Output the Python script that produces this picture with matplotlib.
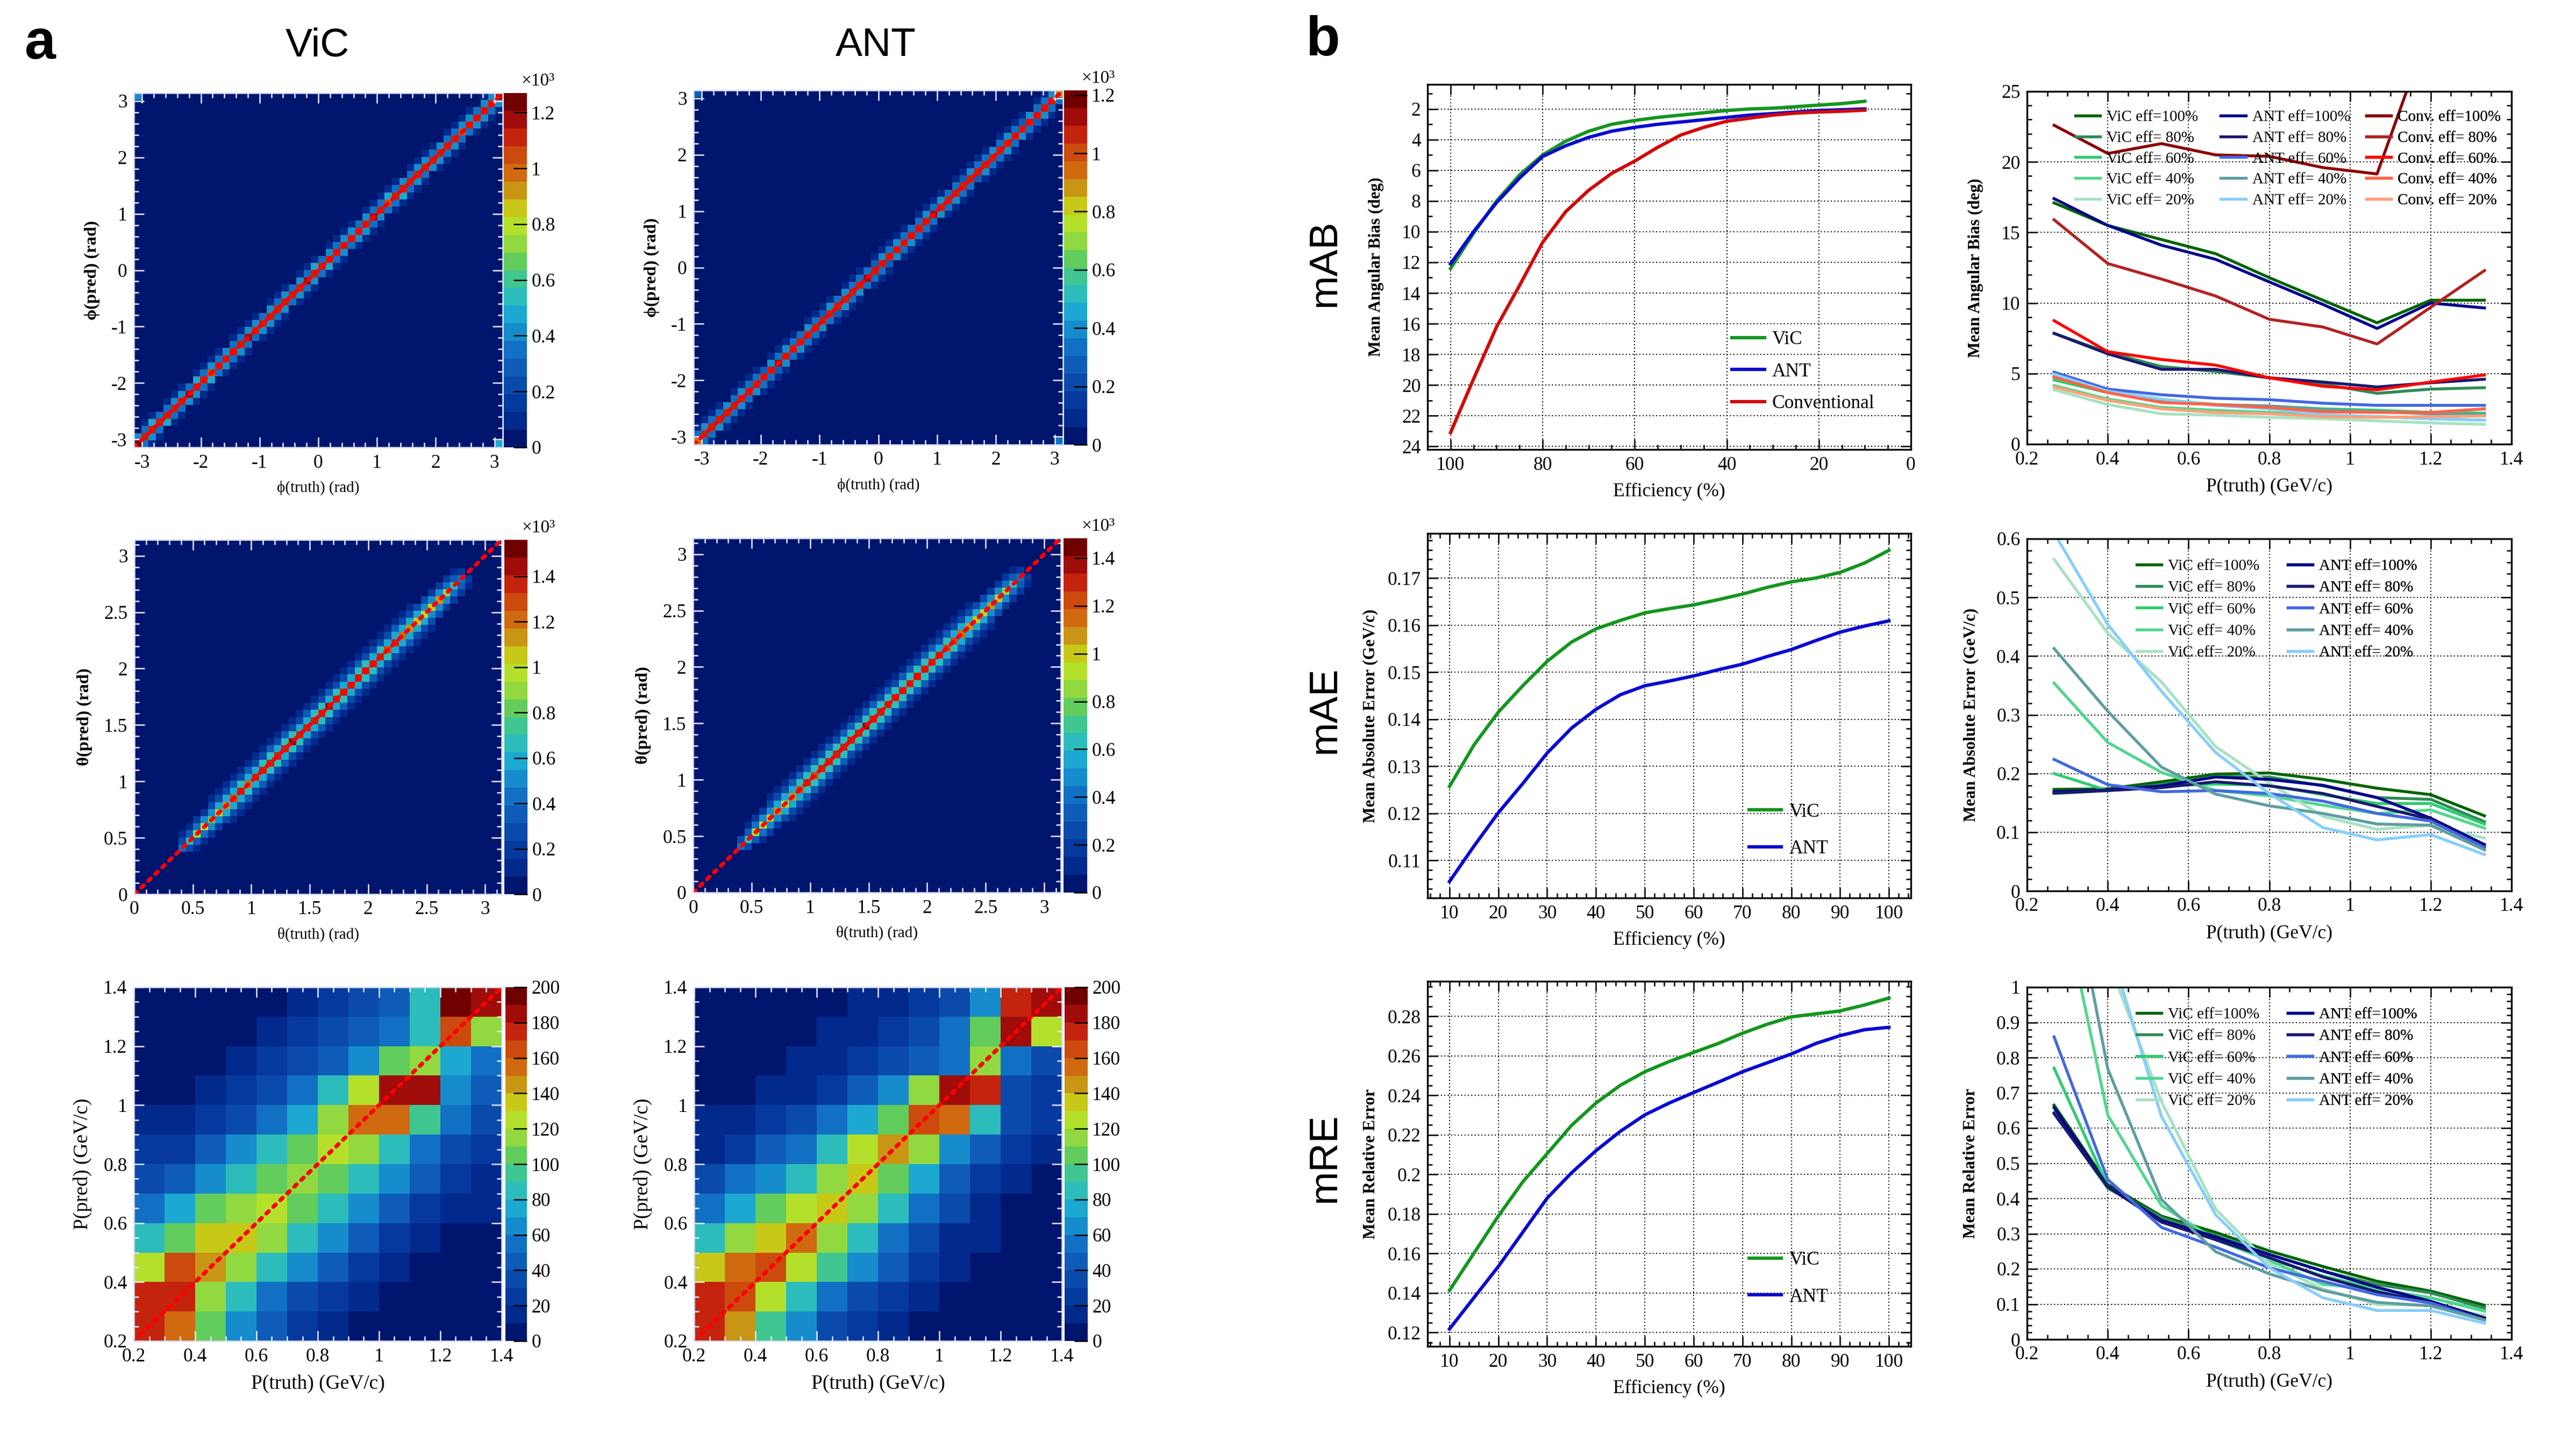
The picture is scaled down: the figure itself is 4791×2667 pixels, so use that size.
import numpy as np
import matplotlib.pyplot as plt
from matplotlib.colors import ListedColormap, BoundaryNorm
from matplotlib.ticker import MultipleLocator, FuncFormatter

plt.rcParams['font.family'] = ['Liberation Serif', 'DejaVu Serif']
plt.rcParams['axes.unicode_minus'] = False

# ---------------- panel a: 2D histograms ----------------
# phi(pred) vs phi(truth), 50 bins over [-pi, pi]
phi_vic_diag = [1230, 1110, 1090, 1130, 1100, 1080, 1120, 1150, 1090, 1110,
                1070, 1130, 1100, 1120, 1090, 1160, 1110, 1080, 1120, 1100,
                1130, 1090, 1110, 1170, 1100, 1120, 1090, 1140, 1100, 1080,
                1120, 1110, 1150, 1090, 1050, 1110, 1130, 1100, 1080, 1120,
                1100, 1140, 1090, 1110, 1060, 1120, 1100, 1130, 1090, 1200]
phi_vic_side1 = [370, 400, 340, 450, 380, 350, 420, 390, 340, 460,
                 370, 400, 350, 430, 380, 340, 410, 390, 360, 440,
                 370, 400, 350, 420, 380, 490, 360, 400, 340, 430,
                 390, 350, 420, 380, 340, 450, 370, 400, 350, 410,
                 390, 340, 430, 380, 360, 420, 390, 350, 440, 400]
phi_vic_side2 = [70, 90, 60, 110, 80, 60, 100, 70, 90, 60,
                 120, 80, 70, 100, 60, 90, 80, 110, 70, 60,
                 100, 80, 90, 60, 70, 110, 80, 60, 90, 100,
                 70, 80, 60, 110, 90, 70, 80, 100, 60, 90,
                 70, 80, 110, 60, 90, 70, 100, 80, 60, 90]
phi_vic_wrap = [420, 480]

phi_ant_diag = [940, 1060, 1080, 1050, 1070, 1040, 1090, 1060, 1050, 1080,
                1060, 1110, 1050, 1070, 1040, 1080, 1060, 1050, 1090, 1070,
                1040, 1060, 1080, 1130, 1050, 1070, 1060, 1040, 1090, 1060,
                1080, 1050, 1100, 1070, 1040, 1060, 1080, 1050, 1070, 1060,
                1090, 1040, 1070, 1060, 1080, 1050, 1070, 1060, 1040, 880]
phi_ant_side1 = [360, 320, 400, 340, 310, 390, 350, 420, 330, 360,
                 300, 380, 340, 410, 320, 360, 390, 330, 300, 370,
                 350, 410, 320, 360, 340, 300, 390, 350, 420, 330,
                 360, 310, 380, 340, 400, 320, 360, 300, 390, 350,
                 330, 410, 320, 370, 340, 300, 380, 350, 330, 370]
phi_ant_side2 = [80, 60, 100, 70, 90, 110, 60, 80, 100, 70,
                 90, 60, 110, 80, 70, 100, 60, 90, 80, 110,
                 70, 60, 100, 90, 80, 60, 110, 70, 90, 80,
                 100, 60, 70, 110, 80, 90, 60, 100, 70, 80,
                 110, 90, 60, 80, 100, 70, 90, 60, 80, 100]
phi_ant_wrap = [300, 350]

# theta(pred) vs theta(truth), 50 bins over [0, pi]; band occupies bins 6..44
theta_first_bin = 6
theta_vic_diag = [450, 650, 900, 1000, 850, 1050, 1100, 1250, 1350, 1200,
                  1360, 1370, 1380, 1340, 1360, 1450, 1370, 1340, 1380, 1360,
                  1440, 1370, 1350, 1340, 1380, 1330, 1360, 1340, 1250, 1340,
                  1200, 1150, 1050, 980, 1080, 1150, 900, 650, 420]
theta_vic_side1 = [250, 350, 450, 500, 520, 560, 580, 600, 640, 620,
                   600, 650, 630, 610, 660, 640, 600, 620, 650, 630,
                   610, 640, 600, 620, 650, 630, 600, 640, 610, 590,
                   620, 580, 560, 540, 520, 500, 420, 330, 220]
theta_vic_side2 = [80, 120, 180, 220, 250, 280, 300, 320, 300, 340,
                   310, 290, 330, 300, 320, 280, 310, 330, 300, 290,
                   320, 300, 310, 290, 330, 300, 280, 310, 300, 320,
                   290, 280, 260, 240, 230, 200, 160, 110, 70]
theta_vic_side3 = [40, 50, 60, 70, 80, 90, 80, 100, 90, 80,
                   100, 90, 80, 100, 90, 80, 90, 100, 80, 90,
                   100, 80, 90, 80, 100, 90, 80, 90, 100, 80,
                   90, 80, 70, 70, 60, 60, 50, 40, 30]

theta_ant_diag = [420, 600, 850, 950, 1000, 1050, 900, 1100, 1200, 1280,
                  1250, 1300, 1290, 1270, 1310, 1300, 1280, 1350, 1300, 1290,
                  1310, 1280, 1300, 1290, 1270, 1310, 1300, 1280, 1250, 1200,
                  1150, 1100, 1000, 950, 1050, 1000, 850, 650, 400]
theta_ant_side1 = [230, 330, 430, 480, 510, 540, 560, 590, 610, 600,
                   620, 640, 600, 630, 610, 650, 620, 600, 640, 610,
                   630, 600, 640, 620, 600, 630, 610, 590, 600, 570,
                   560, 540, 520, 500, 490, 460, 400, 310, 200]
theta_ant_side2 = [70, 110, 170, 210, 240, 270, 290, 310, 300, 320,
                   300, 280, 320, 290, 310, 300, 280, 320, 300, 290,
                   310, 290, 300, 320, 280, 300, 310, 290, 300, 280,
                   270, 260, 250, 230, 220, 190, 150, 100, 60]
theta_ant_side3 = [40, 50, 60, 70, 80, 90, 80, 90, 100, 80,
                   90, 100, 80, 90, 100, 80, 90, 80, 100, 90,
                   80, 100, 90, 80, 90, 100, 80, 90, 80, 100,
                   90, 80, 70, 60, 60, 50, 50, 40, 30]

# P(pred) vs P(truth), read in 0.1 GeV/c blocks; rows from P(pred)=0.2 upward
p_bin_edges = [0.2, 0.3, 0.4, 0.5, 0.6, 0.7, 0.8, 0.9, 1.0, 1.1, 1.2, 1.3, 1.4]
p_vic_counts = [
    [175, 150, 100, 65, 40, 20, 12, 8, 5, 5, 5, 5],
    [175, 170, 110, 80, 55, 35, 20, 12, 8, 6, 5, 5],
    [125, 165, 145, 115, 85, 60, 40, 25, 15, 8, 6, 5],
    [80, 105, 130, 130, 110, 85, 65, 40, 25, 15, 8, 6],
    [55, 70, 100, 115, 120, 105, 85, 60, 40, 25, 15, 10],
    [35, 45, 60, 80, 105, 115, 105, 80, 60, 40, 25, 12],
    [25, 25, 40, 60, 80, 105, 120, 110, 80, 55, 30, 20],
    [10, 15, 25, 35, 50, 75, 115, 150, 150, 90, 50, 35],
    [6, 8, 12, 20, 35, 50, 85, 120, 185, 180, 65, 40],
    [5, 6, 8, 12, 20, 30, 40, 60, 100, 110, 70, 50],
    [5, 5, 6, 8, 12, 20, 30, 40, 50, 85, 160, 110],
    [4, 4, 5, 6, 8, 12, 20, 30, 45, 80, 190, 185],
]
p_ant_counts = [
    [175, 140, 95, 60, 38, 22, 12, 6, 6, 5, 5, 5],
    [175, 165, 120, 80, 55, 35, 20, 12, 8, 6, 5, 5],
    [135, 155, 165, 125, 90, 60, 40, 25, 12, 8, 5, 5],
    [80, 110, 135, 150, 115, 80, 50, 30, 18, 10, 6, 5],
    [55, 75, 100, 125, 130, 110, 80, 50, 30, 18, 8, 6],
    [35, 50, 65, 85, 110, 130, 105, 75, 45, 25, 12, 8],
    [15, 25, 40, 55, 80, 120, 145, 110, 65, 40, 20, 12],
    [10, 12, 20, 35, 50, 75, 100, 165, 150, 80, 30, 20],
    [5, 8, 10, 15, 25, 40, 65, 110, 185, 175, 35, 25],
    [4, 5, 6, 10, 15, 25, 30, 40, 55, 110, 55, 30],
    [4, 4, 5, 8, 12, 18, 25, 35, 50, 100, 185, 120],
    [4, 4, 5, 6, 8, 12, 15, 25, 30, 60, 170, 185],
]

# ---------------- panel b: metrics ----------------
eff = [10, 15, 20, 25, 30, 35, 40, 45, 50, 55, 60, 65, 70, 75, 80, 85, 90, 95, 100]
mab_vic = [1.5, 1.65, 1.75, 1.85, 1.95, 2.0, 2.1, 2.25, 2.4, 2.55, 2.75, 3.0, 3.45, 4.1, 5.0, 6.3, 8.0, 10.1, 12.4]
mab_ant = [2.0, 2.05, 2.1, 2.2, 2.3, 2.4, 2.55, 2.7, 2.85, 3.0, 3.2, 3.45, 3.85, 4.4, 5.1, 6.5, 8.1, 10.0, 12.1]
mab_conv = [2.08, 2.15, 2.2, 2.27, 2.4, 2.6, 2.8, 3.2, 3.7, 4.5, 5.4, 6.2, 7.3, 8.7, 10.7, 13.5, 16.2, 19.6, 23.1]
mae_vic = [0.1257, 0.1345, 0.1415, 0.1471, 0.1523, 0.1564, 0.1592, 0.1610, 0.1626, 0.1635,
           0.1643, 0.1654, 0.1666, 0.1680, 0.1692, 0.1700, 0.1712, 0.1732, 0.1759]
mae_ant = [0.1055, 0.1130, 0.1201, 0.1263, 0.1328, 0.1381, 0.1421, 0.1452, 0.1471, 0.1481,
           0.1492, 0.1505, 0.1517, 0.1533, 0.1548, 0.1567, 0.1585, 0.1598, 0.1609]
mre_vic = [0.1413, 0.1601, 0.1789, 0.1962, 0.2105, 0.2248, 0.2361, 0.2451, 0.2519, 0.2571,
           0.2617, 0.2662, 0.2714, 0.2759, 0.2797, 0.2812, 0.2827, 0.2857, 0.2892]
mre_ant = [0.1218, 0.1376, 0.1534, 0.1707, 0.1880, 0.2008, 0.2120, 0.2218, 0.2301, 0.2361,
           0.2414, 0.2466, 0.2519, 0.2564, 0.2609, 0.2662, 0.2702, 0.2732, 0.2744]

p_truth = [0.267, 0.4, 0.533, 0.667, 0.8, 0.933, 1.067, 1.2, 1.333]
eff_levels = ['100', ' 80', ' 60', ' 40', ' 20']
mab_p_vic = [[17.1, 15.5, 14.5, 13.5, 11.8, 10.2, 8.6, 10.2, 10.2],
             [7.85, 6.5, 5.5, 5.15, 4.7, 4.25, 3.6, 3.9, 4.0],
             [4.55, 3.65, 3.05, 2.8, 2.7, 2.5, 2.4, 2.25, 2.2],
             [4.15, 3.2, 2.6, 2.4, 2.25, 2.05, 1.95, 1.8, 1.7],
             [3.85, 2.8, 2.15, 2.05, 1.9, 1.8, 1.65, 1.5, 1.4]]
mab_p_ant = [[17.4, 15.5, 14.1, 13.1, 11.5, 9.9, 8.2, 10.0, 9.65],
             [7.85, 6.4, 5.3, 5.3, 4.7, 4.4, 4.05, 4.35, 4.6],
             [5.1, 3.9, 3.5, 3.25, 3.15, 2.9, 2.75, 2.75, 2.75],
             [4.8, 3.7, 3.15, 2.8, 2.7, 2.45, 2.3, 2.15, 2.1],
             [4.95, 3.75, 3.2, 2.75, 2.5, 2.1, 1.95, 1.8, 1.7]]
mab_p_conv = [[22.6, 20.6, 21.3, 20.5, 20.4, 19.6, 19.15, 29.8, 31.0],
              [15.9, 12.8, 11.7, 10.5, 8.85, 8.3, 7.1, 9.7, 12.3],
              [8.75, 6.55, 6.0, 5.6, 4.7, 4.1, 3.85, 4.4, 4.9],
              [4.75, 3.65, 2.95, 2.8, 2.6, 2.3, 2.25, 2.25, 2.5],
              [4.05, 3.1, 2.5, 2.25, 2.15, 1.95, 1.9, 1.95, 2.0]]
mae_p_vic = [[0.173, 0.174, 0.186, 0.199, 0.201, 0.190, 0.175, 0.164, 0.128],
             [0.166, 0.171, 0.181, 0.195, 0.194, 0.179, 0.159, 0.156, 0.118],
             [0.200, 0.171, 0.179, 0.182, 0.180, 0.164, 0.149, 0.149, 0.114],
             [0.354, 0.253, 0.202, 0.171, 0.162, 0.146, 0.132, 0.138, 0.107],
             [0.565, 0.439, 0.356, 0.246, 0.184, 0.127, 0.105, 0.112, 0.090]]
mae_p_ant = [[0.169, 0.172, 0.179, 0.194, 0.190, 0.180, 0.159, 0.124, 0.079],
             [0.167, 0.171, 0.176, 0.186, 0.179, 0.166, 0.144, 0.122, 0.075],
             [0.224, 0.181, 0.169, 0.171, 0.166, 0.153, 0.132, 0.119, 0.074],
             [0.413, 0.306, 0.211, 0.165, 0.145, 0.132, 0.114, 0.112, 0.070],
             [0.610, 0.454, 0.340, 0.236, 0.166, 0.108, 0.087, 0.096, 0.062]]
mre_p_vic = [[0.665, 0.440, 0.350, 0.304, 0.251, 0.207, 0.165, 0.137, 0.097],
             [0.644, 0.429, 0.346, 0.295, 0.241, 0.194, 0.156, 0.132, 0.089],
             [0.770, 0.435, 0.335, 0.285, 0.228, 0.180, 0.142, 0.118, 0.082],
             [1.36, 0.637, 0.380, 0.283, 0.224, 0.156, 0.143, 0.118, 0.080],
             [1.60, 1.08, 0.675, 0.370, 0.215, 0.143, 0.099, 0.097, 0.068]]
mre_p_ant = [[0.658, 0.435, 0.338, 0.291, 0.241, 0.194, 0.148, 0.108, 0.061],
             [0.641, 0.433, 0.333, 0.283, 0.232, 0.177, 0.135, 0.105, 0.057],
             [0.859, 0.454, 0.318, 0.262, 0.203, 0.165, 0.127, 0.103, 0.055],
             [1.56, 0.768, 0.397, 0.249, 0.186, 0.139, 0.105, 0.095, 0.055],
             [1.70, 1.13, 0.633, 0.354, 0.203, 0.118, 0.082, 0.082, 0.046]]

vic_shades = ['#006400', '#2e8b57', '#2ecc71', '#52d68e', '#a8e2c2']
ant_shades = ['#00008b', '#191970', '#4169e1', '#5f9ea0', '#87cefa']
conv_shades = ['#8b0000', '#b22222', '#ff0000', '#ff6347', '#ffa07a']

# ROOT-like rainbow palette, 20 contour levels
palette = ListedColormap(['#00156e', '#022a8c', '#06399e', '#0a4aab', '#0e5cb8',
                          '#1270c4', '#168ccc', '#1ca8d0', '#2cbcbc', '#40c690',
                          '#62cc5c', '#92d840', '#b4e02c', '#c8c818', '#c89614',
                          '#d06a10', '#cc4a0e', '#c4240e', '#a00c0a', '#700000'])

W, H = 4791, 2667
fig = plt.figure(figsize=(W / 300, H / 300), dpi=300)


def box(l, t, r, b):
    return fig.add_axes([l / W, 1 - b / H, (r - l) / W, (b - t) / H])


def gfmt(v, pos):
    return f'{v:g}'


def diag_matrix(diag, side1, side2):
    d = np.asarray(diag, float)
    s1 = np.asarray(side1, float)
    s2 = np.asarray(side2, float)
    return (np.diag(d) + np.diag(s1[:-1], 1) + np.diag(s1[1:], -1)
            + np.diag(s2[:-2], 2) + np.diag(s2[2:], -2))


def band_matrix(n, first, diag, side1, side2, side3):
    m = np.zeros((n, n))
    for i, (d, s1, s2, s3) in enumerate(zip(diag, side1, side2, side3)):
        b = first + i
        m[b, b] = d
        for k, s in ((1, s1), (2, s2), (3, s3)):
            m[b, b + k] = s
            m[b + k, b] = s
    return m


def heatmap(axbox, cbbox, edges, counts, vmax, cticks, scale, major, minor,
            xlabel, ylabel, lsize, ysize, yweight):
    ax = box(*axbox)
    norm = BoundaryNorm(np.linspace(0, vmax, 21), 20, clip=True)
    mesh = ax.pcolormesh(edges, edges, counts, cmap=palette, norm=norm)
    ax.axline((edges[0], edges[0]), slope=1, color='red', lw=1.8,
              ls=(0, (0.8, 1.6)), dash_capstyle='round')
    ax.set_xlim(edges[0], edges[-1])
    ax.set_ylim(edges[0], edges[-1])
    for a in (ax.xaxis, ax.yaxis):
        a.set_major_locator(MultipleLocator(major))
        a.set_minor_locator(MultipleLocator(minor))
        a.set_major_formatter(FuncFormatter(gfmt))
    ax.tick_params(which='both', direction='in', top=True, right=True,
                   color='#e8ecf8', width=0.6, labelsize=8.5, pad=3)
    ax.tick_params(which='major', length=4.5)
    ax.tick_params(which='minor', length=2.2)
    for s in ax.spines.values():
        s.set_color('#d8def0')
        s.set_linewidth(0.6)
    ax.set_xlabel(xlabel, fontsize=lsize, labelpad=4)
    ax.set_ylabel(ylabel, fontsize=ysize, fontweight=yweight, labelpad=5)

    cax = box(*cbbox)
    cb = fig.colorbar(mesh, cax=cax, ticks=cticks)
    cb.outline.set_visible(False)
    cax.yaxis.set_major_formatter(FuncFormatter(lambda v, p: f'{v / scale:g}'))
    cax.tick_params(direction='in', length=6, width=0.6, color='black',
                    labelsize=8.5, pad=2)
    cax.minorticks_off()
    if scale != 1:
        cax.text(0.75, 1.01, '×10³', transform=cax.transAxes, fontsize=8,
                 ha='left', va='bottom')
    return ax


pi_edges = np.linspace(-np.pi, np.pi, 51)
th_edges = np.linspace(0, np.pi, 51)

# phi row
m = diag_matrix(phi_vic_diag, phi_vic_side1, phi_vic_side2)
m[-1, 0], m[0, -1] = phi_vic_wrap
heatmap((249, 173, 935, 832), (937, 173, 980, 832), pi_edges, m, 1270,
        range(0, 1201, 200), 1000, 1, 0.2, 'ϕ(truth) (rad)', 'ϕ(pred) (rad)', 7, 7.8, 'bold')
m = diag_matrix(phi_ant_diag, phi_ant_side1, phi_ant_side2)
m[-1, 0], m[0, -1] = phi_ant_wrap
heatmap((1290, 168, 1977, 827), (1979, 168, 2022, 827), pi_edges, m, 1216,
        range(0, 1201, 200), 1000, 1, 0.2, 'ϕ(truth) (rad)', 'ϕ(pred) (rad)', 7, 7.8, 'bold')

# theta row
m = band_matrix(50, theta_first_bin, theta_vic_diag, theta_vic_side1,
                theta_vic_side2, theta_vic_side3)
heatmap((250, 1004, 933, 1663), (938, 1004, 981, 1663), th_edges, m, 1560,
        range(0, 1401, 200), 1000, 0.5, 0.1, 'θ(truth) (rad)', 'θ(pred) (rad)', 7, 7.8, 'bold')
m = band_matrix(50, theta_first_bin, theta_ant_diag, theta_ant_side1,
                theta_ant_side2, theta_ant_side3)
heatmap((1289, 1001, 1973, 1660), (1978, 1001, 2022, 1660), th_edges, m, 1483,
        range(0, 1401, 200), 1000, 0.5, 0.1, 'θ(truth) (rad)', 'θ(pred) (rad)', 7, 7.8, 'bold')

# momentum row
heatmap((249, 1836, 933, 2494), (940, 1836, 980, 2494), p_bin_edges,
        np.array(p_vic_counts, float), 200, range(0, 201, 20), 1, 0.2, 0.05,
        'P(truth) (GeV/c)', 'P(pred) (GeV/c)', 9, 9, 'normal')
heatmap((1291, 1836, 1975, 2494), (1980, 1836, 2023, 2494), p_bin_edges,
        np.array(p_ant_counts, float), 200, range(0, 201, 20), 1, 0.2, 0.05,
        'P(truth) (GeV/c)', 'P(pred) (GeV/c)', 9, 9, 'normal')


def curve_axes(axbox, xlim, ylim, xmaj, xmin, ymaj, ymin, xlabel, ylabel, ypad):
    ax = box(*axbox)
    ax.set_xlim(*xlim)
    ax.set_ylim(*ylim)
    ax.xaxis.set_major_locator(MultipleLocator(xmaj))
    ax.xaxis.set_minor_locator(MultipleLocator(xmin))
    ax.yaxis.set_major_locator(MultipleLocator(ymaj))
    ax.yaxis.set_minor_locator(MultipleLocator(ymin))
    ax.xaxis.set_major_formatter(FuncFormatter(gfmt))
    ax.yaxis.set_major_formatter(FuncFormatter(gfmt))
    ax.tick_params(which='both', direction='in', top=True, right=True,
                   width=0.6, labelsize=8.5, pad=3)
    ax.tick_params(which='major', length=4.5)
    ax.tick_params(which='minor', length=2.2)
    ax.grid(True, which='major', color='black', lw=0.5, ls=(0, (1, 2)))
    for s in ax.spines.values():
        s.set_linewidth(0.8)
    ax.set_xlabel(xlabel, fontsize=8.5, labelpad=4)
    ax.set_ylabel(ylabel, fontsize=7.5, fontweight='bold', labelpad=ypad)
    return ax


def left_legend(ax, x, y, spacing):
    ax.legend(loc='upper left', bbox_to_anchor=(x, y), frameon=False, fontsize=8.5,
              handlelength=1.7, handletextpad=0.4, labelspacing=spacing,
              borderpad=0, borderaxespad=0)


def column_legend(ax, lines, x, y, spacing):
    leg = ax.legend(handles=lines, loc='upper left', bbox_to_anchor=(x, y),
                    frameon=False, fontsize=7, handlelength=1.6,
                    handletextpad=0.4, labelspacing=spacing, borderpad=0,
                    borderaxespad=0)
    ax.add_artist(leg)


vic_col, ant_col, conv_col = '#14961e', '#0a0ad2', '#d20a0a'

# mAB vs efficiency
ax = curve_axes((2655, 157, 3554, 836), (105, 0), (24.2, 0.4), 20, 5, 2, 1,
                'Efficiency (%)', 'Mean Angular Bias (deg)', 8)
ax.plot(eff, mab_vic, color=vic_col, lw=1.5, label='ViC')
ax.plot(eff, mab_ant, color=ant_col, lw=1.5, label='ANT')
ax.plot(eff, mab_conv, color=conv_col, lw=1.5, label='Conventional')
left_legend(ax, 0.63, 0.325, 0.75)

# mAE vs efficiency
ax = curve_axes((2655, 992, 3554, 1670), (5.5, 104.5), (0.102, 0.1795), 10, 2,
                0.01, 0.002, 'Efficiency (%)', 'Mean Absolute Error (GeV/c)', 4)
ax.plot(eff, mae_vic, color=vic_col, lw=1.5, label='ViC')
ax.plot(eff, mae_ant, color=ant_col, lw=1.5, label='ANT')
left_legend(ax, 0.665, 0.26, 1.0)

# mRE vs efficiency
ax = curve_axes((2655, 1825, 3554, 2504), (5.5, 104.5), (0.113, 0.2977), 10, 2,
                0.02, 0.005, 'Efficiency (%)', 'Mean Relative Error', 4)
ax.plot(eff, mre_vic, color=vic_col, lw=1.5, label='ViC')
ax.plot(eff, mre_ant, color=ant_col, lw=1.5, label='ANT')
left_legend(ax, 0.665, 0.26, 1.0)


def momentum_panel(axbox, ylim, ymaj, ymin, ylabel, groups, xs, top, spacing):
    ax = curve_axes(axbox, (0.2, 1.4), ylim, 0.2, 0.05, ymaj, ymin,
                    'P(truth) (GeV/c)', ylabel, 8)
    for (name, series, shades), x in zip(groups, xs):
        lines = []
        for lvl, vals, c in zip(eff_levels, series, shades):
            ln, = ax.plot(p_truth, vals, color=c, lw=1.3, label=f'{name} eff={lvl}%')
            lines.append(ln)
        column_legend(ax, lines, x, top, spacing)
    return ax


momentum_panel((3770, 170, 4671, 826), (0, 25), 5, 1, 'Mean Angular Bias (deg)',
               [('ViC', mab_p_vic, vic_shades), ('ANT', mab_p_ant, ant_shades),
                ('Conv.', mab_p_conv, conv_shades)],
               [0.0997, 0.40, 0.70], 0.947, 0.42)
momentum_panel((3770, 1002, 4671, 1657), (0, 0.6), 0.1, 0.02, 'Mean Absolute Error (GeV/c)',
               [('ViC', mae_p_vic, vic_shades), ('ANT', mae_p_ant, ant_shades)],
               [0.226, 0.538], 0.943, 0.48)
momentum_panel((3770, 1836, 4671, 2491), (0, 1), 0.1, 0.02, 'Mean Relative Error',
               [('ViC', mre_p_vic, vic_shades), ('ANT', mre_p_ant, ant_shades)],
               [0.226, 0.538], 0.943, 0.48)

# titles and panel letters
sans = 'Liberation Sans'
fig.text(75 / W, 1 - 83 / H, 'a', family=sans, fontweight='bold', fontsize=25,
         ha='center', va='center')
fig.text(2460 / W, 1 - 77 / H, 'b', family=sans, fontweight='bold', fontsize=25,
         ha='center', va='center')
fig.text(590 / W, 1 - 85 / H, 'ViC', family=sans, fontsize=18, ha='center', va='center')
fig.text(1629 / W, 1 - 85 / H, 'ANT', family=sans, fontsize=18, ha='center', va='center')
for label, yc in (('mAB', 489), ('mAE', 1320), ('mRE', 2153)):
    fig.text(2463 / W, 1 - yc / H, label, family=sans, fontsize=18, rotation=90,
             ha='center', va='center')

fig.savefig('out.png', dpi=300)
